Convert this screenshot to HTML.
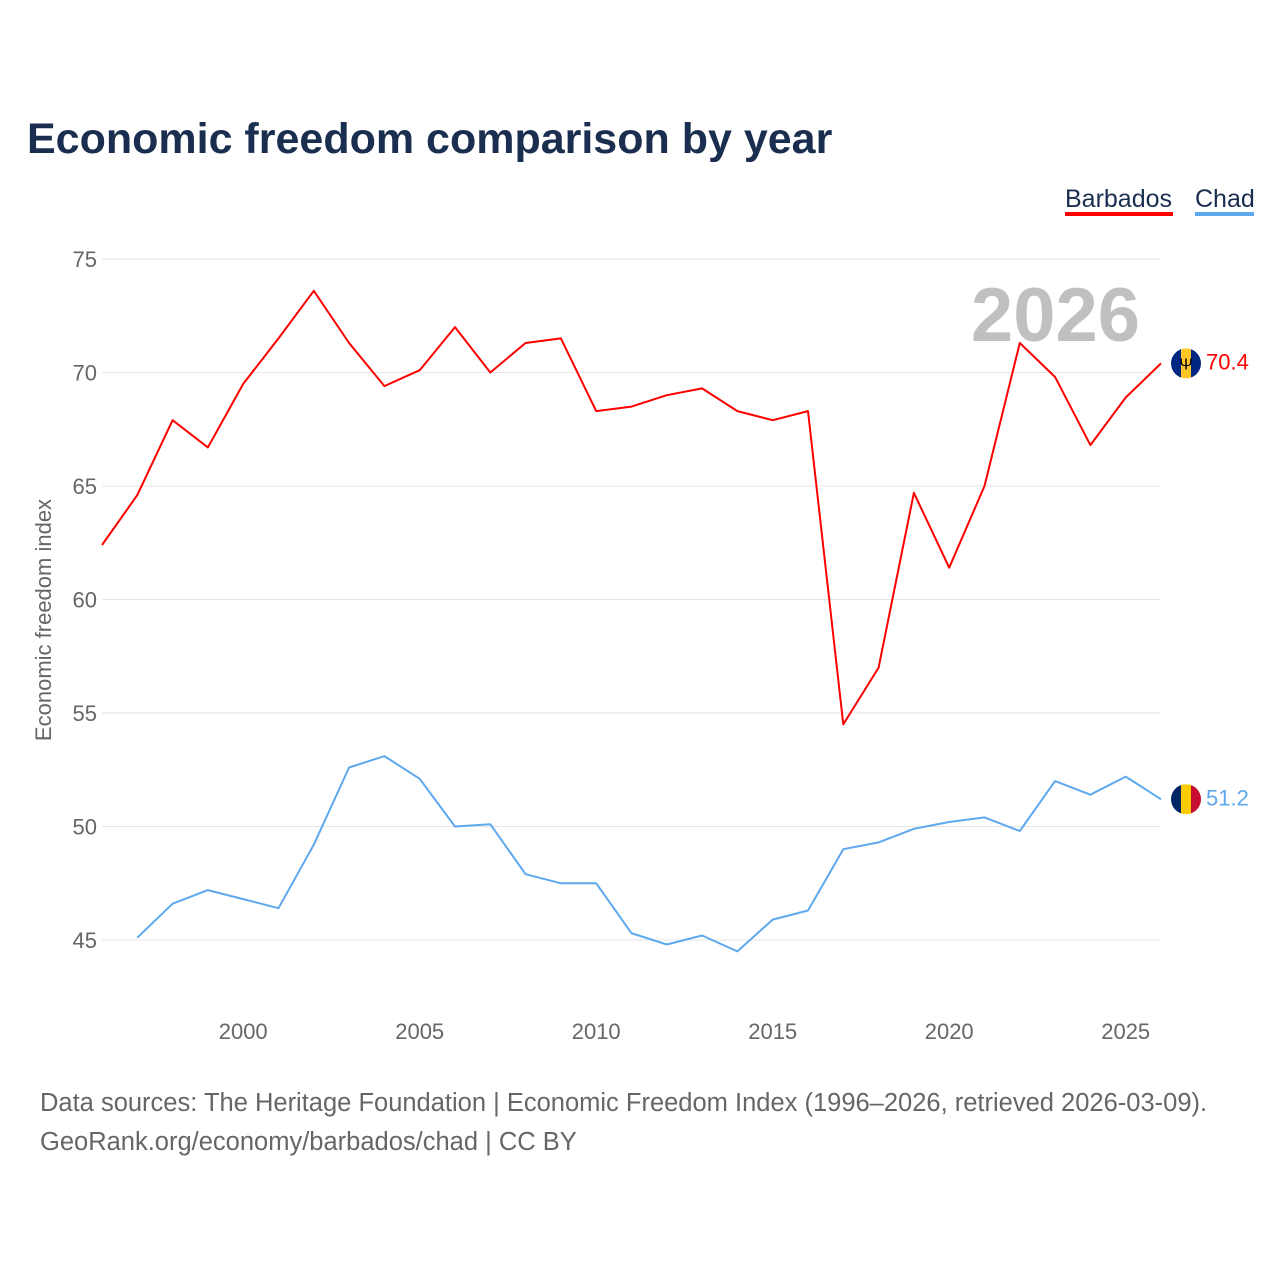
<!DOCTYPE html>
<html><head><meta charset="utf-8"><style>
body{margin:0;background:#fff;font-family:"Liberation Sans",sans-serif;}
</style></head><body>
<svg width="1280" height="1280" viewBox="0 0 1280 1280" xmlns="http://www.w3.org/2000/svg" font-family="Liberation Sans, sans-serif">
<text x="27" y="153" font-size="43" font-weight="bold" fill="#1a2e4f">Economic freedom comparison by year</text>
<g>
<text x="1065" y="207" font-size="25" fill="#1a2e4f">Barbados</text>
<rect x="1065" y="212" width="108" height="4" fill="#ff0000"/>
<text x="1195" y="207" font-size="25" fill="#1a2e4f">Chad</text>
<rect x="1195" y="212" width="59" height="4" fill="#5ea8ee"/>
</g>
<text x="1140" y="341" font-size="76" font-weight="bold" fill="#c0c0c0" text-anchor="end">2026</text>
<g id="grid"></g><g id="xt"></g>
<text transform="translate(51,620) rotate(-90)" font-size="22" fill="#666" text-anchor="middle">Economic freedom index</text>
<g id="lines"></g>
<g font-size="25.5" fill="#666">
<text x="40" y="1111">Data sources: The Heritage Foundation | Economic Freedom Index (1996–2026, retrieved 2026-03-09).</text>
<text x="40" y="1150">GeoRank.org/economy/barbados/chad | CC BY</text>
</g>
</svg>
<script>
const years=[1996,1997,1998,1999,2000,2001,2002,2003,2004,2005,2006,2007,2008,2009,2010,2011,2012,2013,2014,2015,2016,2017,2018,2019,2020,2021,2022,2023,2024,2025,2026];
const barbados=[62.4,64.6,67.9,66.7,69.5,71.5,73.6,71.3,69.4,70.1,72.0,70.0,71.3,71.5,68.3,68.5,69.0,69.3,68.3,67.9,68.3,54.5,57.0,64.7,61.4,65.0,71.3,69.8,66.8,68.9,70.4];
const chad=[null,45.1,46.6,47.2,46.8,46.4,49.2,52.6,53.1,52.1,50.0,50.1,47.9,47.5,47.5,45.3,44.8,45.2,44.5,45.9,46.3,49.0,49.3,49.9,50.2,50.4,49.8,52.0,51.4,52.2,51.2];
const yTicks=[45,50,55,60,65,70,75];
const xTicks=[2000,2005,2010,2015,2020,2025];
const NS="http://www.w3.org/2000/svg";
const X=y=>102+(y-1996)*(1161-102)/30;
const Y=v=>259+(75-v)*(940-259)/30;
function mk(t,a,p){const e=document.createElementNS(NS,t);for(const k in a)e.setAttribute(k,a[k]);p.appendChild(e);return e;}
const g=document.getElementById('grid');
yTicks.forEach(v=>{
 const l=mk('line',{x1:102,x2:1161,y1:Y(v),y2:Y(v),stroke:'#e6e6e6','stroke-width':1},g);
 
 
 const t=mk('text',{x:97,y:Y(v)+8,'font-size':22,fill:'#666','text-anchor':'end'},g);
 
 
 t.textContent=v;
});
const xt=document.getElementById('xt');
xTicks.forEach(v=>{
 const t=mk('text',{x:X(v),y:1039,'font-size':22,fill:'#666','text-anchor':'middle'},xt);
 
 
 t.textContent=v;
});
const L=document.getElementById('lines');
function series(vals,color,name,flag){
 const pts=[];vals.forEach((v,i)=>{if(v!=null)pts.push(X(years[i]).toFixed(1)+','+Y(v).toFixed(1));});
 const p=mk('polyline',{points:pts.join(' '),fill:'none',stroke:color,'stroke-width':2,'stroke-linejoin':'round'},L);
 
 
 const last=vals[vals.length-1];const cx=X(years[years.length-1])+25,cy=Y(last);
 const fg=mk('g',{},L);
 
 
 const id='c'+name;
 const cp=mk('clipPath',{id:id},fg);mk('circle',{cx:cx,cy:cy,r:15},cp);
 const gg=mk('g',{'clip-path':'url(#'+id+')'},fg);
 flag.forEach((c,i)=>mk('rect',{x:cx-15+i*10,y:cy-15,width:10,height:30,fill:c},gg));
 if(name==='barbados')mk('text',{x:cx,y:cy+6,'font-size':16,'text-anchor':'middle',fill:'#000'},gg).textContent='Ψ';
 const t=mk('text',{x:cx+20,y:cy+6,'font-size':22,fill:color},L);
 
 
 t.textContent=last;
}
series(barbados,'#ff0000','barbados',['#00267f','#ffc726','#00267f']);
series(chad,'#5ea8ee','chad',['#002664','#fecb00','#c60c30']);
</script>
</body></html>
